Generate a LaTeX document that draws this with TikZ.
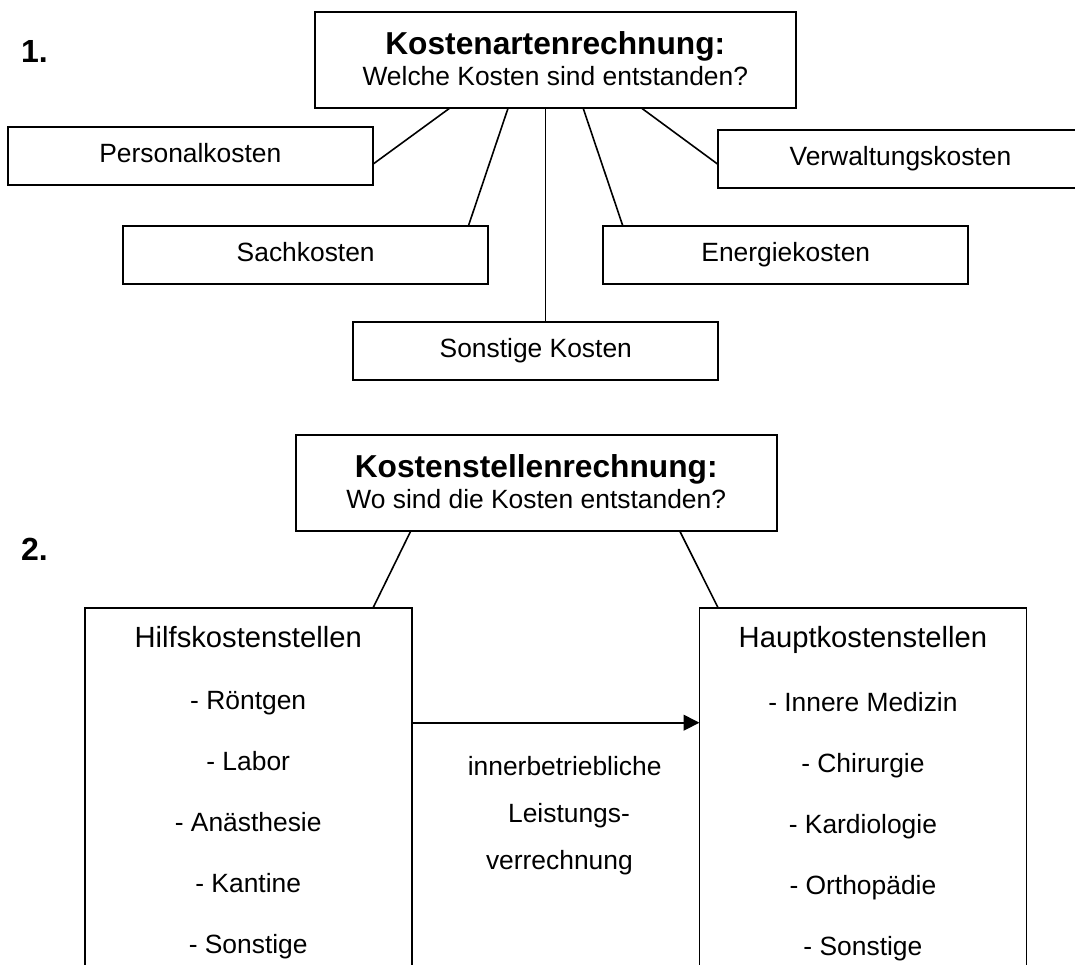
\documentclass[tikz,border=0pt]{standalone}
\usepackage{fontspec}
\setmainfont{Liberation Sans}
\usetikzlibrary{arrows.meta}
\begin{document}
\begin{tikzpicture}[x=1pt,y=-1pt,
  every node/.style={inner sep=0pt,outer sep=0pt},
  regtxt/.style={font=\fontsize{26.4}{30}\selectfont},
  headtxt/.style={font=\fontsize{29.2}{34}\selectfont},
  boldtxt/.style={font=\fontsize{31.7}{36}\selectfont\bfseries},
  numtxt/.style={font=\fontsize{32}{36}\selectfont\bfseries},
  titlebox/.style={draw=black,line width=1.7pt,minimum width=481pt,minimum height=96pt},
  costbox/.style={draw=black,line width=1.7pt,minimum width=365pt,minimum height=58pt,
    regtxt,text height=18pt,text depth=5pt},
  centrebox/.style={draw=black,line width=1.7pt,minimum width=327pt,minimum height=392pt},
  conn/.style={draw=black,line width=1.6pt},
]
\useasboundingbox (0,0) rectangle (1075,965);

% ---------- 1. Kostenartenrechnung ----------
\node[numtxt,anchor=base west] (n1) at (21,63) {1.};
\node[titlebox] (kar) at (555.3,60.3) {};
\node[boldtxt,anchor=base] (karT) at (555.3,54.8) {Kostenartenrechnung:};
\node[regtxt,anchor=base] (karS) at (555.3,85.9) {Welche Kosten sind entstanden?};

\node[costbox] (pers)  at (190.3,156.2) {Personalkosten};
\node[costbox] (sach)  at (305.7,254.9) {Sachkosten};
\node[costbox] (sonst) at (535.8,350.9) {Sonstige Kosten};
\node[costbox] (verw)  at (900.4,158.9) {Verwaltungskosten};
\node[costbox] (energ) at (785.8,254.9) {Energiekosten};

\draw[conn] (449.5,0 |- kar.south) -- (pers.east |- 0,164.3);
\draw[conn] (508,0 |- kar.south) -- (468.4,0 |- sach.north);
\draw[conn] (545.3,0 |- kar.south) -- (545.3,0 |- sonst.north);
\draw[conn] (583.2,0 |- kar.south) -- (622.8,0 |- energ.north);
\draw[conn] (641.8,0 |- kar.south) -- (verw.west |- 0,164.3);

% ---------- 2. Kostenstellenrechnung ----------
\node[numtxt,anchor=base west] (n2) at (21,560) {2.};
\node[titlebox] (ksr) at (536.2,482.7) {};
\node[boldtxt,anchor=base] (ksrT) at (536.2,477.6) {Kostenstellenrechnung:};
\node[regtxt,anchor=base] (ksrS) at (536.2,508.1) {Wo sind die Kosten entstanden?};

\node[centrebox] (hilf)  at (248.2,804) {};
\node[centrebox] (haupt) at (862.9,804) {};

\draw[conn] (410.9,0 |- ksr.south) -- (373,0 |- hilf.north);
\draw[conn] (679.6,0 |- ksr.south) -- (718.2,0 |- haupt.north);

% auxiliary cost centres
\node[headtxt,anchor=base] (hilfH) at (248.2,647) {Hilfskostenstellen};
\node[regtxt,anchor=base] (h1) at (248.2,709.0) {- Röntgen};
\node[regtxt,anchor=base] (h2) at (248.2,770.1) {- Labor};
\node[regtxt,anchor=base] (h3) at (248.2,831.1) {- Anästhesie};
\node[regtxt,anchor=base] (h4) at (248.2,892.2) {- Kantine};
\node[regtxt,anchor=base] (h5) at (248.2,953.2) {- Sonstige};

% main cost centres
\node[headtxt,anchor=base] (hauptH) at (862.9,647) {Hauptkostenstellen};
\node[regtxt,anchor=base] (m1) at (862.9,711.5) {- Innere Medizin};
\node[regtxt,anchor=base] (m2) at (862.9,772.5) {- Chirurgie};
\node[regtxt,anchor=base] (m3) at (862.9,833.5) {- Kardiologie};
\node[regtxt,anchor=base] (m4) at (862.9,894.5) {- Orthopädie};
\node[regtxt,anchor=base] (m5) at (862.9,955.5) {- Sonstige};

% internal service allocation
\draw[conn,-{Triangle[length=15.7pt,width=15.7pt]}]
  (hilf.east |- 0,722.7) -- (haupt.west |- 0,722.7);
\node[regtxt,anchor=base] (ilv1) at (564.7,775.5) {innerbetriebliche};
\node[regtxt,anchor=base] (ilv2) at (569.0,822.5) {Leistungs-};
\node[regtxt,anchor=base] (ilv3) at (559.4,869.0) {verrechnung};
\end{tikzpicture}
\end{document}
